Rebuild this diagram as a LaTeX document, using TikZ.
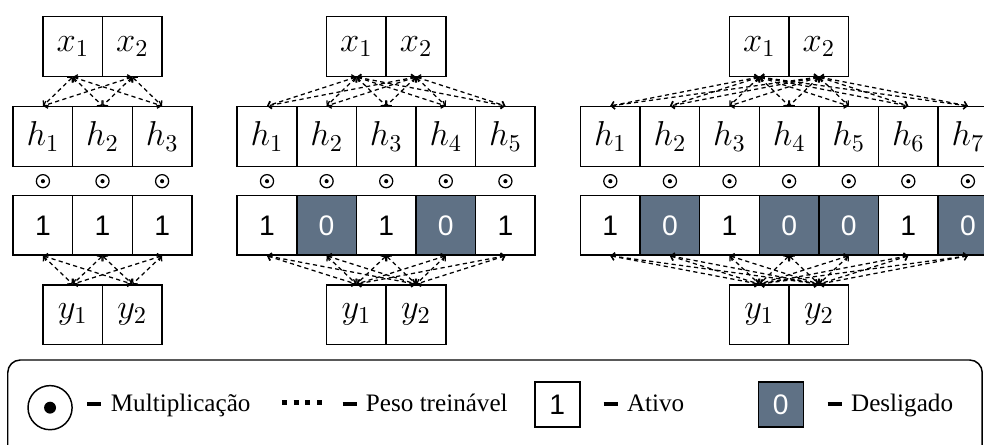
\documentclass[tikz,border=0pt]{standalone}
\usepackage{fix-cm}
\usepackage{fontspec}
\setmainfont{Liberation Serif}
\newfontfamily\bitfont{Liberation Sans}
\usetikzlibrary{arrows.meta}

\definecolor{offgray}{HTML}{5F7185}
\newcommand\legdash{\rule[2.9pt]{6.7pt}{1.9pt}\hspace{4.5pt}}

\tikzset{
  cell/.style={draw, line width=0.7pt, minimum width=1cm, minimum height=1cm, inner sep=0pt, font=\fontsize{16.5}{20}\selectfont},
  bit/.style={cell, font=\fontsize{13.5}{16}\bitfont},
  bit1/.style={bit},
  bit0/.style={bit, fill=offgray, text=white},
  link/.style={<->, >={Straight Barb[length=1.6pt,width=3.6pt]}, line width=0.6pt, dash pattern=on 2pt off 1.6pt},
  prod/.style={circle, draw, line width=0.6pt, minimum size=0.22cm, inner sep=0pt,
    path picture={\fill (path picture bounding box.center) circle (0.035);}},
  legtext/.style={anchor=base west, inner sep=0pt, font=\fontsize{12}{14}\selectfont},
  legbox/.style={minimum width=0.755cm, minimum height=0.755cm, font=\fontsize{13.5}{16}\bitfont},
}

\begin{document}
\begin{tikzpicture}
\clip (0,0) rectangle (16.51,-7.45);

% three hidden units, nothing switched off
\node[cell] (a-x1) at (1.22,-0.78) {$x_1$};
\node[cell] (a-x2) at (2.22,-0.78) {$x_2$};
\foreach \b [count=\i] in {1,1,1} {
  \node[cell] (a-h\i) at (-0.28+\i,-2.29) {$h_\i$};
  \node[prod] (a-p\i) at (-0.28+\i,-3.04) {};
  \node[bit\b] (a-m\i) at (-0.28+\i,-3.78) {\b};
}
\node[cell] (a-y1) at (1.22,-5.28) {$y_1$};
\node[cell] (a-y2) at (2.22,-5.28) {$y_2$};

% five hidden units
\node[cell] (b-x1) at (5.98,-0.78) {$x_1$};
\node[cell] (b-x2) at (6.98,-0.78) {$x_2$};
\foreach \b [count=\i] in {1,0,1,0,1} {
  \node[cell] (b-h\i) at (3.48+\i,-2.29) {$h_\i$};
  \node[prod] (b-p\i) at (3.48+\i,-3.04) {};
  \node[bit\b] (b-m\i) at (3.48+\i,-3.78) {\b};
}
\node[cell] (b-y1) at (5.98,-5.28) {$y_1$};
\node[cell] (b-y2) at (6.98,-5.28) {$y_2$};

% seven hidden units
\node[cell] (c-x1) at (12.74,-0.78) {$x_1$};
\node[cell] (c-x2) at (13.74,-0.78) {$x_2$};
\foreach \b [count=\i] in {1,0,1,0,0,1,0} {
  \node[cell] (c-h\i) at (9.24+\i,-2.29) {$h_\i$};
  \node[prod] (c-p\i) at (9.24+\i,-3.04) {};
  \node[bit\b] (c-m\i) at (9.24+\i,-3.78) {\b};
}
\node[cell] (c-y1) at (12.74,-5.28) {$y_1$};
\node[cell] (c-y2) at (13.74,-5.28) {$y_2$};

% weights
\foreach \p/\n in {a/3,b/5,c/7}
  \foreach \i in {1,2}
    \foreach \j in {1,...,\n} {
      \draw[link] (\p-x\i.south) -- (\p-h\j.north);
      \draw[link] (\p-m\j.south) -- (\p-y\i.north);
    }

% legend
\draw[line width=0.7pt, rounded corners=6pt] (0.13,-8) rectangle (16.48,-6.04);
\node[circle, draw, line width=0.7pt, minimum size=0.74cm, inner sep=0pt] (leg-prod) at (0.84,-6.84) {};
\fill (leg-prod.center) circle (0.1);
\node[legtext] (leg-prod-txt) at (1.46,-6.91) {\legdash Multiplicação};

\coordinate (leg-w1) at (4.73,-6.76);
\coordinate (leg-w2) at (5.42,-6.76);
\draw[line width=2.4pt, dash pattern=on 2.4pt off 3.2pt] (leg-w1) -- (leg-w2);
\node[legtext] (leg-link-txt) at (5.74,-6.91) {\legdash Peso treinável};

\node[bit1, legbox] (leg-on) at (9.35,-6.79) {1};
\node[legtext] (leg-on-txt) at (10.12,-6.91) {\legdash Ativo};

\node[bit0, legbox] (leg-off) at (13.10,-6.79) {0};
\node[legtext] (leg-off-txt) at (13.88,-6.91) {\legdash Desligado};
\end{tikzpicture}
\end{document}
